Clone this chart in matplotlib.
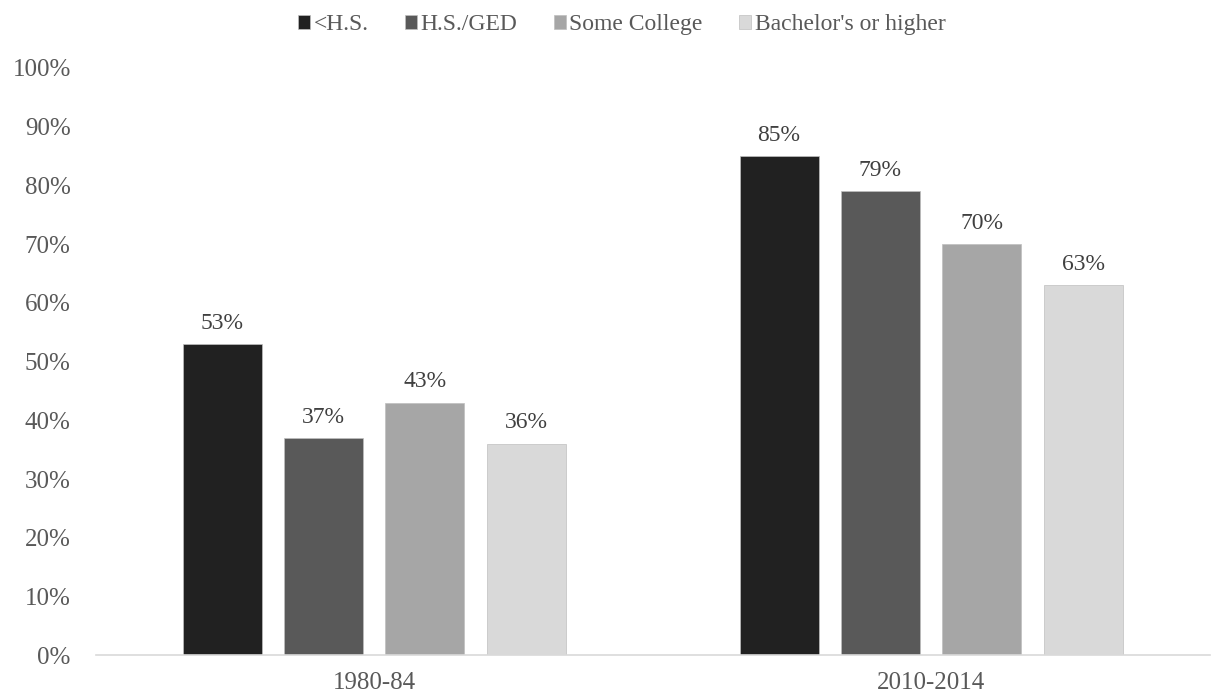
import numpy as np
import matplotlib
matplotlib.use("Agg")
import matplotlib.pyplot as plt

plt.rcParams['font.family'] = ['Liberation Serif', 'DejaVu Serif']

# data
periods = ["1980-84", "2010-2014"]
education = ["<H.S.", "H.S./GED", "Some College", "Bachelor's or higher"]
shares = {
    "<H.S.": [53, 85],
    "H.S./GED": [37, 79],
    "Some College": [43, 70],
    "Bachelor's or higher": [36, 63],
}
colors = ["#212121", "#595959", "#a6a6a6", "#d9d9d9"]

fig = plt.figure(figsize=(12.12, 7), dpi=100)
ax = fig.add_axes([0.079, 0.064, 0.919, 0.839])

x = np.arange(len(periods))
width = 0.142
step = 0.182
for i, name in enumerate(education):
    pos = x + (i - 1.5) * step
    bars = ax.bar(pos, shares[name], width, color=colors[i], label=name,
                  edgecolor="#bfbfbf", linewidth=0.5)
    for b, v in zip(bars, shares[name]):
        ax.annotate(f"{v}%", (b.get_x() + b.get_width() / 2, v),
                    xytext=(0, 15), textcoords="offset points",
                    ha="center", va="center", fontsize=17, color="#404040")

ax.set_xlim(-0.5, 1.5)
ax.set_ylim(0, 100)
ax.set_xticks(x)
ax.set_xticklabels(periods)
ax.set_yticks(range(0, 101, 10))
ax.set_yticklabels([f"{t}%" for t in range(0, 101, 10)])
ax.tick_params(length=0, labelsize=18, colors="#595959")
ax.tick_params(axis="x", pad=12)
ax.tick_params(axis="y", pad=18)
for s in ["top", "right", "left"]:
    ax.spines[s].set_visible(False)
ax.spines["bottom"].set_color("#d9d9d9")
ax.spines["bottom"].set_linewidth(1.2)

fig.legend(loc="upper center", bbox_to_anchor=(0.513, 1.01), ncol=4, frameon=False,
           fontsize=17, handlelength=0.5, handleheight=0.5, handletextpad=0.15,
           columnspacing=1.55, labelcolor="#595959")

fig.savefig("out.png", dpi=100)
